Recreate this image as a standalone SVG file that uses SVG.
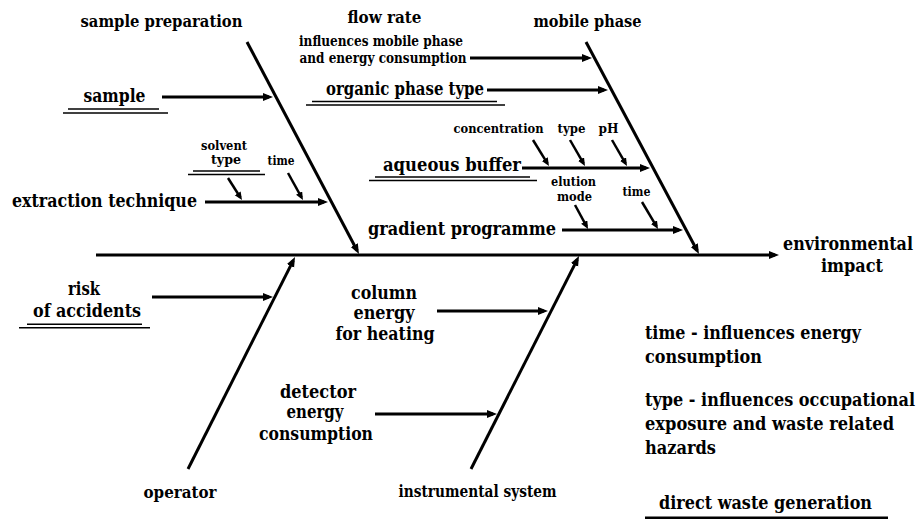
<svg xmlns="http://www.w3.org/2000/svg" width="921" height="519" viewBox="0 0 921 519">
<style>
text{font-family:'DejaVu Serif','Liberation Serif',serif;font-weight:bold;fill:#000}
.big{font-size:19px}
.b18{font-size:18px}
.mid{font-size:17px}
.sm{font-size:14px}
.xs{font-size:13px}
.c{text-anchor:middle}
.ln{stroke:#000;stroke-width:3;fill:none}
.bone{stroke:#000;stroke-width:3;fill:none}
.sa{stroke:#000;stroke-width:2.5;fill:none}
.ul{stroke:#000;stroke-width:1.5}
</style>
<defs>
<marker id="ah" markerUnits="userSpaceOnUse" markerWidth="12" markerHeight="10" refX="6" refY="4" orient="auto"><path d="M0,0 L10,4 L0,8 z" fill="#000"/></marker>
<marker id="as" markerUnits="userSpaceOnUse" markerWidth="10" markerHeight="8" refX="5" refY="3.5" orient="auto"><path d="M0,0 L8,3.5 L0,7 z" fill="#000"/></marker>
</defs>
<rect width="921" height="519" fill="#fff"/>

<g id="connectors">
<line class="ln" x1="96" y1="255" x2="775" y2="255" marker-end="url(#ah)"/>
<line class="bone" x1="247" y1="42" x2="357.1" y2="250.5" marker-end="url(#ah)"/>
<line class="bone" x1="586" y1="42" x2="697.1" y2="250.5" marker-end="url(#ah)"/>
<line class="bone" x1="188" y1="469" x2="293.2" y2="260.6" marker-end="url(#ah)"/>
<line class="bone" x1="471" y1="469" x2="577.2" y2="259.6" marker-end="url(#ah)"/>
<line class="ln" x1="162" y1="97" x2="269" y2="97" marker-end="url(#ah)"/>
<line class="ln" x1="205" y1="202" x2="324" y2="202" marker-end="url(#ah)"/>
<line class="ln" x1="470" y1="58" x2="588" y2="58" marker-end="url(#ah)"/>
<line class="ln" x1="487" y1="90" x2="604" y2="90" marker-end="url(#ah)"/>
<line class="ln" x1="522" y1="168" x2="646" y2="168" marker-end="url(#ah)"/>
<line class="ln" x1="562" y1="230" x2="679" y2="230" marker-end="url(#ah)"/>
<line class="ln" x1="152" y1="297" x2="269" y2="297" marker-end="url(#ah)"/>
<line class="ln" x1="437" y1="311" x2="544" y2="311" marker-end="url(#ah)"/>
<line class="ln" x1="375" y1="414" x2="493" y2="414" marker-end="url(#ah)"/>
<line class="sa" x1="228" y1="178" x2="240.4" y2="197.5" marker-end="url(#as)"/>
<line class="sa" x1="288" y1="173" x2="301.5" y2="197.4" marker-end="url(#as)"/>
<line class="sa" x1="533" y1="140" x2="547.4" y2="163.4" marker-end="url(#as)"/>
<line class="sa" x1="570" y1="140" x2="583.5" y2="163.4" marker-end="url(#as)"/>
<line class="sa" x1="612" y1="140" x2="625.5" y2="163.4" marker-end="url(#as)"/>
<line class="sa" x1="575" y1="205" x2="586.6" y2="226.4" marker-end="url(#as)"/>
<line class="sa" x1="642" y1="202" x2="656.5" y2="226.4" marker-end="url(#as)"/>
</g>

<g id="sample-preparation"><text class="mid c" x="161.5" y="27" textLength="162" lengthAdjust="spacingAndGlyphs">sample preparation</text></g>
<g id="mobile-phase"><text class="mid c" x="587.5" y="27" textLength="108" lengthAdjust="spacingAndGlyphs">mobile phase</text></g>
<g id="flow-rate">
<text class="mid c" x="384.5" y="23" textLength="74" lengthAdjust="spacingAndGlyphs">flow rate</text>
<text class="sm c" x="381" y="46" textLength="164" lengthAdjust="spacingAndGlyphs">influences mobile phase</text>
<text class="sm c" x="383" y="63" textLength="167" lengthAdjust="spacingAndGlyphs">and energy consumption</text>
</g>
<g id="sample">
<text class="big c" x="114.5" y="102" textLength="62" lengthAdjust="spacingAndGlyphs">sample</text>
<line class="ul" x1="68" y1="109" x2="159" y2="109"/>
<line class="ul" x1="63" y1="113" x2="168" y2="113"/>
</g>
<g id="organic-phase-type">
<text class="big" x="326" y="95" textLength="158" lengthAdjust="spacingAndGlyphs">organic phase type</text>
<line class="ul" x1="312" y1="101.5" x2="497" y2="101.5"/>
<line class="ul" x1="306" y1="105" x2="505" y2="105"/>
</g>
<g id="solvent-type">
<text class="xs c" x="224" y="150" textLength="46" lengthAdjust="spacingAndGlyphs">solvent</text>
<text class="xs c" x="226" y="164" textLength="30" lengthAdjust="spacingAndGlyphs">type</text>
<line class="ul" x1="193" y1="171" x2="260" y2="171"/>
<line class="ul" x1="188" y1="174.5" x2="265" y2="174.5"/>
</g>
<g id="extraction-time"><text class="xs c" x="281" y="165" textLength="27" lengthAdjust="spacingAndGlyphs">time</text></g>
<g id="extraction-technique"><text class="big" x="12" y="207" textLength="185" lengthAdjust="spacingAndGlyphs">extraction technique</text></g>
<g id="concentration"><text class="xs c" x="498.5" y="133" textLength="90" lengthAdjust="spacingAndGlyphs">concentration</text></g>
<g id="buffer-type"><text class="xs c" x="571.5" y="133" textLength="28" lengthAdjust="spacingAndGlyphs">type</text></g>
<g id="ph"><text class="xs c" x="608.5" y="133" textLength="20" lengthAdjust="spacingAndGlyphs">pH</text></g>
<g id="aqueous-buffer">
<text class="big" x="383" y="171" textLength="138" lengthAdjust="spacingAndGlyphs">aqueous buffer</text>
<line class="ul" x1="375" y1="177" x2="530" y2="177"/>
<line class="ul" x1="369" y1="180.5" x2="537" y2="180.5"/>
</g>
<g id="elution-mode">
<text class="xs c" x="573.5" y="186" textLength="45" lengthAdjust="spacingAndGlyphs">elution</text>
<text class="xs c" x="574.5" y="201" textLength="35" lengthAdjust="spacingAndGlyphs">mode</text>
</g>
<g id="gradient-time"><text class="xs c" x="636.5" y="196" textLength="28" lengthAdjust="spacingAndGlyphs">time</text></g>
<g id="gradient-programme"><text class="big" x="368" y="235" textLength="188" lengthAdjust="spacingAndGlyphs">gradient programme</text></g>
<g id="environmental-impact">
<text class="big c" x="848" y="250" textLength="130" lengthAdjust="spacingAndGlyphs">environmental</text>
<text class="big c" x="852" y="272" textLength="62" lengthAdjust="spacingAndGlyphs">impact</text>
</g>
<g id="risk-of-accidents">
<text class="big c" x="84" y="295" textLength="32" lengthAdjust="spacingAndGlyphs">risk</text>
<text class="big c" x="87" y="317" textLength="108" lengthAdjust="spacingAndGlyphs">of accidents</text>
<line class="ul" x1="27" y1="324.3" x2="142" y2="324.3"/>
<line class="ul" x1="19" y1="327.8" x2="150" y2="327.8"/>
</g>
<g id="column">
<text class="big c" x="384" y="299" textLength="66" lengthAdjust="spacingAndGlyphs">column</text>
<text class="big c" x="384" y="319" textLength="61" lengthAdjust="spacingAndGlyphs">energy</text>
<text class="big c" x="385" y="340" textLength="99" lengthAdjust="spacingAndGlyphs">for heating</text>
</g>
<g id="detector">
<text class="b18 c" x="318" y="398" textLength="76" lengthAdjust="spacingAndGlyphs">detector</text>
<text class="b18 c" x="315" y="418" textLength="57" lengthAdjust="spacingAndGlyphs">energy</text>
<text class="b18 c" x="316" y="440" textLength="114" lengthAdjust="spacingAndGlyphs">consumption</text>
</g>
<g id="operator"><text class="mid c" x="180" y="498" textLength="73" lengthAdjust="spacingAndGlyphs">operator</text></g>
<g id="instrumental-system"><text class="mid c" x="477.5" y="497" textLength="158" lengthAdjust="spacingAndGlyphs">instrumental system</text></g>
<g id="notes">
<text class="big" x="645" y="339" textLength="216" lengthAdjust="spacingAndGlyphs">time - influences energy</text>
<text class="big" x="645" y="363" textLength="117" lengthAdjust="spacingAndGlyphs">consumption</text>
<text class="big" x="645" y="406" textLength="270" lengthAdjust="spacingAndGlyphs">type - influences occupational</text>
<text class="big" x="645" y="430" textLength="249" lengthAdjust="spacingAndGlyphs">exposure and waste related</text>
<text class="big" x="645" y="454" textLength="71" lengthAdjust="spacingAndGlyphs">hazards</text>
</g>
<g id="direct-waste-generation">
<text class="big" x="659" y="509" textLength="213" lengthAdjust="spacingAndGlyphs">direct waste generation</text>
<rect x="645" y="516.5" width="243" height="3" fill="#000"/>
</g>
</svg>
